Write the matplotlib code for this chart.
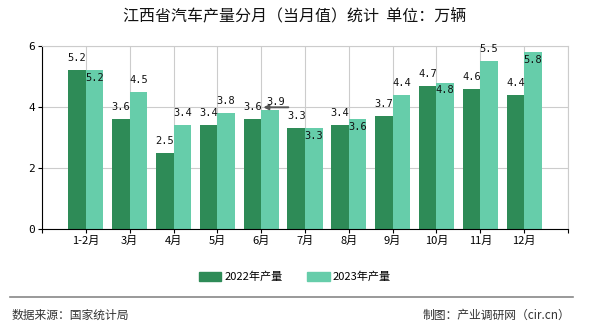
import matplotlib.pyplot as plt
import matplotlib.transforms as mtransforms
import numpy as np

plt.rcParams['font.family'] = ['Noto Sans CJK SC', 'DejaVu Sans']

months = ['1-2月', '3月', '4月', '5月', '6月', '7月', '8月', '9月', '10月', '11月', '12月']
prod_2022 = [5.2, 3.6, 2.5, 3.4, 3.6, 3.3, 3.4, 3.7, 4.7, 4.6, 4.4]
prod_2023 = [5.2, 4.5, 3.4, 3.8, 3.9, 3.3, 3.6, 4.4, 4.8, 5.5, 5.8]
# 2023 标签放在柱内 (原图标签避让)
inside_2023 = [True, False, False, False, False, True, True, False, True, False, True]
leader_idx = 4  # 6月 的标签带引线

C22 = '#2e8b57'
C23 = '#66cdaa'

fig = plt.figure(figsize=(5.9, 3.3), dpi=100)
ax = fig.add_axes([0.0712, 0.305, 0.8915, 0.556])

x = np.arange(len(months))
w = 0.4
ax.bar(x - w / 2, prod_2022, w, color=C22, zorder=2)
ax.bar(x + w / 2, prod_2023, w, color=C23, zorder=2)

num_font = dict(family='DejaVu Sans Mono', fontsize=7.5, color='#111111')
for xi, v in zip(x, prod_2022):
    ax.annotate(f'{v:.1f}', (xi - w / 2, v), xytext=(0, 5), textcoords='offset points',
                ha='center', va='bottom', zorder=4, **num_font)

up2 = ax.transData + mtransforms.ScaledTranslation(0, 2 / 72, fig.dpi_scale_trans)
for i, (xi, v) in enumerate(zip(x, prod_2023)):
    if i == leader_idx:
        tip = (xi + w / 2 - 0.15, v)
        ax.annotate('', tip, xycoords=up2, xytext=(18, 0), textcoords='offset points',
                    zorder=4, arrowprops=dict(arrowstyle='-|>', color='#555555', lw=1.4,
                                              mutation_scale=7, shrinkA=0, shrinkB=0))
        ax.annotate(f'{v:.1f}', tip, xycoords=up2, xytext=(9, 0), textcoords='offset points',
                    ha='center', va='bottom', zorder=4, **num_font)
    elif inside_2023[i]:
        ax.annotate(f'{v:.1f}', (xi + w / 2, v), xytext=(0, -2), textcoords='offset points',
                    ha='center', va='top', zorder=4, **num_font)
    else:
        ax.annotate(f'{v:.1f}', (xi + w / 2, v), xytext=(0, 5), textcoords='offset points',
                    ha='center', va='bottom', zorder=4, **num_font)

ax.set_xlim(-1, 11)
ax.set_ylim(0, 6)
ax.set_xticks(np.arange(-1, 12))
ax.set_xticklabels([''] + months + [''], fontsize=8)
ax.set_yticks([0, 2, 4, 6])
ax.set_yticklabels(['0', '2', '4', '6'], fontsize=8, family='DejaVu Sans Mono')
ax.grid(True, color='#cccccc', lw=0.8, zorder=0)
ax.set_axisbelow(True)
for s in ['top', 'right']:
    ax.spines[s].set_color('#cccccc')
for s in ['left', 'bottom']:
    ax.spines[s].set_color('black')
ax.tick_params(axis='both', length=3, width=0.8, color='black', pad=2)

fig.text(0.5, 0.951, '江西省汽车产量分月（当月值）统计  单位：万辆', ha='center', va='center',
         fontsize=11.5, color='#111111')

h1 = plt.Rectangle((0, 0), 1, 1, color=C22)
h2 = plt.Rectangle((0, 0), 1, 1, color=C23)
fig.legend([h1, h2], ['2022年产量', '2023年产量'], loc='center', bbox_to_anchor=(0.5, 0.161),
           ncol=2, frameon=False, fontsize=8, handlelength=2.0, handleheight=0.8,
           columnspacing=2.2, handletextpad=0.3)

fig.add_artist(plt.Line2D([0.017, 0.971], [0.1, 0.1], color='#888888', lw=1.2))
fig.text(0.019, 0.045, '数据来源：国家统计局', ha='left', va='center', fontsize=8.5, color='#333333')
fig.text(0.966, 0.045, '制图：产业调研网（cir.cn）', ha='right', va='center', fontsize=8.5, color='#333333')

fig.savefig('out.png', dpi=100)
